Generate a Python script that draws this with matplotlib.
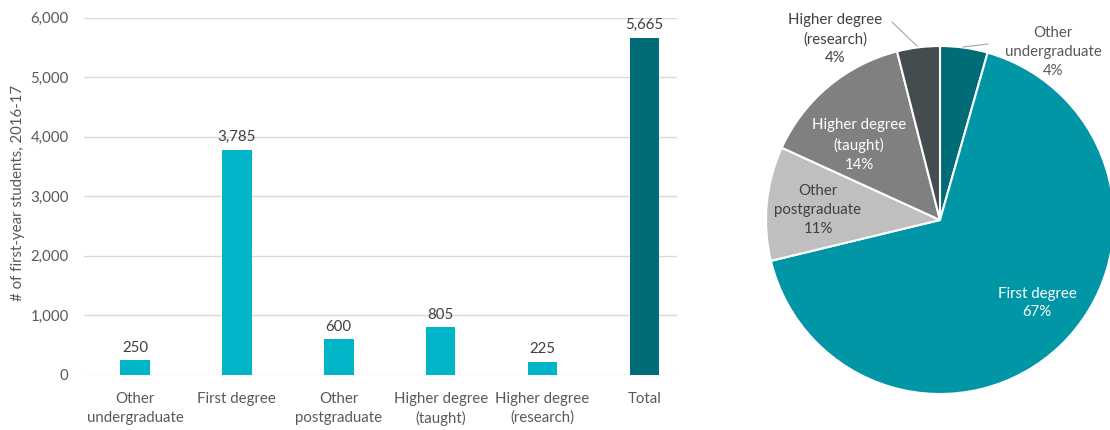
import matplotlib.pyplot as plt
import numpy as np

plt.rcParams['font.family'] = ['Lato', 'DejaVu Sans']

categories = ["Other\nundergraduate", "First degree", "Other\npostgraduate",
              "Higher degree\n(taught)", "Higher degree\n(research)", "Total"]
counts = [250, 3785, 600, 805, 225, 5665]

pie_labels = ["Other\nundergraduate", "First degree", "Other\npostgraduate",
              "Higher degree\n(taught)", "Higher degree\n(research)"]
pie_values = counts[:5]
pie_colors = ["#006C77", "#0096A6", "#BFBFBF", "#808080", "#444C50"]

txt = "#595959"
fs = 10.8

fig = plt.figure(figsize=(11.1, 4.3), dpi=100)

# bar chart
ax = fig.add_axes([0.0757, 0.128, 0.5343, 0.831])
x = np.arange(len(categories))
bar_cols = ["#00B5C8"] * 5 + ["#006C77"]
bars = ax.bar(x, counts, width=0.29, color=bar_cols, zorder=3)
for b, v in zip(bars, counts):
    ax.text(b.get_x() + b.get_width() / 2, v + 90, f"{v:,}", ha="center", va="bottom",
            fontsize=fs, color="#404040")
ax.set_xlim(-0.5, 5.32)
ax.set_ylim(0, 6000)
ax.set_yticks(np.arange(0, 6001, 1000))
ax.set_yticklabels([f"{t:,}" for t in range(0, 6001, 1000)])
ax.set_xticks(x)
ax.set_xticklabels(categories)
for lbl in ax.get_xticklabels():
    lbl.set_linespacing(1.45)
ax.tick_params(length=0, labelsize=fs, colors=txt)
ax.tick_params(axis="y", pad=11)
ax.tick_params(axis="x", pad=12)
ax.grid(axis="y", color="#D9D9D9", lw=1, zorder=0)
for s in ax.spines.values():
    s.set_visible(False)
ax.set_ylabel("# of first-year students, 2016-17", fontsize=fs, color=txt)
ax.yaxis.set_label_coords(-0.1, 0.51)

# pie chart
r_px = 174
cx, cy = 940, 220
pax = fig.add_axes([(cx - r_px) / 1110, (430 - cy - r_px) / 430, 2 * r_px / 1110, 2 * r_px / 430])
wedges, _ = pax.pie(pie_values, colors=pie_colors, startangle=90, counterclock=False,
                    radius=1, wedgeprops=dict(edgecolor="white", linewidth=1.5))
pax.set_xlim(-1, 1)
pax.set_ylim(-1, 1)
pax.set_aspect("equal")
pax.axis("off")

total = sum(pie_values)
pct = [f"{round(v / total * 100):.0f}%" for v in pie_values]


def to_ax(px, py):
    return ((px - cx) / r_px, (cy - py) / r_px)


label_pos = [(1053, 52), (1037, 303), (818, 210), (859, 145), (835, 39)]
label_col = [txt, "white", "#404040", "white", "#404040"]
for lab, p, pos, c in zip(pie_labels, pct, label_pos, label_col):
    tx, ty = to_ax(*pos)
    pax.text(tx, ty, f"{lab}\n{p}", ha="center", va="center", fontsize=fs,
             color=c, linespacing=1.45, clip_on=False)

# leader lines for the small outside labels
for (x0, y0), (x1, y1) in [((963, 47), (988, 44)), ((917, 46), (892, 22))]:
    a0 = to_ax(x0, y0)
    a1 = to_ax(x1, y1)
    pax.plot([a0[0], a1[0]], [a0[1], a1[1]], color="#A6A6A6", lw=0.8, clip_on=False)

fig.savefig("out.png", dpi=100)
